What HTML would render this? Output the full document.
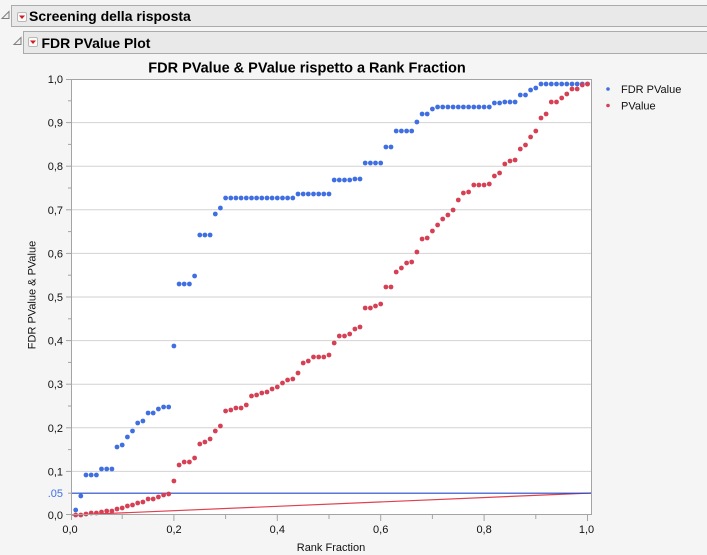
<!DOCTYPE html>
<html><head><meta charset="utf-8"><style>
html,body{margin:0;padding:0;background:#f5f5f5;}
svg{display:block;font-family:"Liberation Sans",sans-serif;}
</style></head><body>
<svg width="707" height="555" viewBox="0 0 707 555" xmlns="http://www.w3.org/2000/svg">
<rect x="0" y="0" width="707" height="555" fill="#f5f5f5"/>
<!-- header 1 -->
<rect x="11.5" y="5.5" width="700" height="21" fill="#e9e9e9" stroke="#ababab"/>
<polygon points="2,18.5 9,11.5 9,18.5" fill="#f0f0f0" stroke="#808080" stroke-width="1"/>
<rect x="17.5" y="12.5" width="9" height="9" rx="1.5" fill="#fafafa" stroke="#b8b8b8"/>
<polygon points="19,15.5 25,15.5 22,19" fill="#d41a1a"/>
<text x="29" y="21" font-size="14" font-weight="bold" fill="#000">Screening della risposta</text>
<!-- header 2 -->
<rect x="23.5" y="31.5" width="690" height="22" fill="#e9e9e9" stroke="#ababab"/>
<polygon points="14,44.5 21,37.5 21,44.5" fill="#f0f0f0" stroke="#808080" stroke-width="1"/>
<rect x="28.5" y="37.5" width="9" height="9" rx="1.5" fill="#fafafa" stroke="#b8b8b8"/>
<polygon points="30,40.5 36,40.5 33,44" fill="#d41a1a"/>
<text x="41.5" y="48" font-size="14" font-weight="bold" fill="#000">FDR PValue Plot</text>
<!-- title -->
<text x="307" y="72.5" font-size="14.5" font-weight="bold" text-anchor="middle" fill="#000">FDR PValue &amp; PValue rispetto a Rank Fraction</text>
<!-- plot area -->
<rect x="71.5" y="79.5" width="520" height="435" fill="#ffffff"/>
<g stroke="#d2d2d2" stroke-width="1">
<line x1="72" x2="591" y1="471.4" y2="471.4"/>
<line x1="72" x2="591" y1="427.8" y2="427.8"/>
<line x1="72" x2="591" y1="384.2" y2="384.2"/>
<line x1="72" x2="591" y1="340.6" y2="340.6"/>
<line x1="72" x2="591" y1="297" y2="297"/>
<line x1="72" x2="591" y1="253.4" y2="253.4"/>
<line x1="72" x2="591" y1="209.8" y2="209.8"/>
<line x1="72" x2="591" y1="166.2" y2="166.2"/>
<line x1="72" x2="591" y1="122.6" y2="122.6"/>
</g>
<!-- reference lines -->
<line x1="72" y1="515" x2="591.5" y2="493" stroke="#e0404f" stroke-width="1.2"/>
<line x1="72" y1="493.2" x2="591.5" y2="493.2" stroke="#2448c8" stroke-width="1.2"/>
<!-- blue series -->
<g fill="#3f6fe0">
<circle r="2.4" cx="75.7" cy="510"/><circle r="2.4" cx="80.8" cy="496"/><circle r="2.4" cx="86" cy="475"/><circle r="2.4" cx="91.2" cy="475"/><circle r="2.4" cx="96.4" cy="475"/>
<circle r="2.4" cx="101.5" cy="469"/><circle r="2.4" cx="106.7" cy="469"/><circle r="2.4" cx="111.9" cy="469"/><circle r="2.4" cx="117" cy="447"/><circle r="2.4" cx="122.2" cy="445"/>
<circle r="2.4" cx="127.4" cy="437"/><circle r="2.4" cx="132.5" cy="431"/><circle r="2.4" cx="137.7" cy="423"/><circle r="2.4" cx="142.9" cy="421"/><circle r="2.4" cx="148.1" cy="413"/>
<circle r="2.4" cx="153.2" cy="413"/><circle r="2.4" cx="158.4" cy="409"/><circle r="2.4" cx="163.6" cy="407"/><circle r="2.4" cx="168.7" cy="407"/><circle r="2.4" cx="173.9" cy="346"/>
<circle r="2.4" cx="179.1" cy="284"/><circle r="2.4" cx="184.2" cy="284"/><circle r="2.4" cx="189.4" cy="284"/><circle r="2.4" cx="194.6" cy="276"/><circle r="2.4" cx="199.8" cy="235"/>
<circle r="2.4" cx="204.9" cy="235"/><circle r="2.4" cx="210.1" cy="235"/><circle r="2.4" cx="215.3" cy="214"/><circle r="2.4" cx="220.4" cy="208"/><circle r="2.4" cx="225.6" cy="198"/>
<circle r="2.4" cx="230.8" cy="198"/><circle r="2.4" cx="235.9" cy="198"/><circle r="2.4" cx="241.1" cy="198"/><circle r="2.4" cx="246.3" cy="198"/><circle r="2.4" cx="251.5" cy="198"/>
<circle r="2.4" cx="256.6" cy="198"/><circle r="2.4" cx="261.8" cy="198"/><circle r="2.4" cx="267" cy="198"/><circle r="2.4" cx="272.1" cy="198"/><circle r="2.4" cx="277.3" cy="198"/>
<circle r="2.4" cx="282.5" cy="198"/><circle r="2.4" cx="287.6" cy="198"/><circle r="2.4" cx="292.8" cy="198"/><circle r="2.4" cx="298" cy="194"/><circle r="2.4" cx="303.2" cy="194"/>
<circle r="2.4" cx="308.3" cy="194"/><circle r="2.4" cx="313.5" cy="194"/><circle r="2.4" cx="318.7" cy="194"/><circle r="2.4" cx="323.8" cy="194"/><circle r="2.4" cx="329" cy="194"/>
<circle r="2.4" cx="334.2" cy="180"/><circle r="2.4" cx="339.3" cy="180"/><circle r="2.4" cx="344.5" cy="180"/><circle r="2.4" cx="349.7" cy="180"/><circle r="2.4" cx="354.9" cy="179"/>
<circle r="2.4" cx="360" cy="179"/><circle r="2.4" cx="365.2" cy="163"/><circle r="2.4" cx="370.4" cy="163"/><circle r="2.4" cx="375.5" cy="163"/><circle r="2.4" cx="380.7" cy="163"/>
<circle r="2.4" cx="385.9" cy="147"/><circle r="2.4" cx="391" cy="147"/><circle r="2.4" cx="396.2" cy="131"/><circle r="2.4" cx="401.4" cy="131"/><circle r="2.4" cx="406.6" cy="131"/>
<circle r="2.4" cx="411.7" cy="131"/><circle r="2.4" cx="416.9" cy="122"/><circle r="2.4" cx="422.1" cy="114"/><circle r="2.4" cx="427.2" cy="114"/><circle r="2.4" cx="432.4" cy="109"/>
<circle r="2.4" cx="437.6" cy="107"/><circle r="2.4" cx="442.7" cy="107"/><circle r="2.4" cx="447.9" cy="107"/><circle r="2.4" cx="453.1" cy="107"/><circle r="2.4" cx="458.3" cy="107"/>
<circle r="2.4" cx="463.4" cy="107"/><circle r="2.4" cx="468.6" cy="107"/><circle r="2.4" cx="473.8" cy="107"/><circle r="2.4" cx="478.9" cy="107"/><circle r="2.4" cx="484.1" cy="107"/>
<circle r="2.4" cx="489.3" cy="107"/><circle r="2.4" cx="494.4" cy="103"/><circle r="2.4" cx="499.6" cy="103"/><circle r="2.4" cx="504.8" cy="102"/><circle r="2.4" cx="510" cy="102"/>
<circle r="2.4" cx="515.1" cy="102"/><circle r="2.4" cx="520.3" cy="95"/><circle r="2.4" cx="525.5" cy="95"/><circle r="2.4" cx="530.6" cy="90"/><circle r="2.4" cx="535.8" cy="88"/>
<circle r="2.4" cx="541" cy="84"/><circle r="2.4" cx="546.1" cy="84"/><circle r="2.4" cx="551.3" cy="84"/><circle r="2.4" cx="556.5" cy="84"/><circle r="2.4" cx="561.7" cy="84"/>
<circle r="2.4" cx="566.8" cy="84"/><circle r="2.4" cx="572" cy="84"/><circle r="2.4" cx="577.2" cy="84"/><circle r="2.4" cx="582.3" cy="84"/><circle r="2.4" cx="587.5" cy="84"/>
</g>
<!-- red series -->
<g fill="#d64055">
<circle r="2.4" cx="75.7" cy="515"/><circle r="2.4" cx="80.8" cy="515"/><circle r="2.4" cx="86" cy="514"/><circle r="2.4" cx="91.2" cy="513"/><circle r="2.4" cx="96.4" cy="513"/>
<circle r="2.4" cx="101.5" cy="512"/><circle r="2.4" cx="106.7" cy="511"/><circle r="2.4" cx="111.9" cy="511"/><circle r="2.4" cx="117" cy="509"/><circle r="2.4" cx="122.2" cy="508"/>
<circle r="2.4" cx="127.4" cy="506"/><circle r="2.4" cx="132.5" cy="505"/><circle r="2.4" cx="137.7" cy="503"/><circle r="2.4" cx="142.9" cy="502"/><circle r="2.4" cx="148.1" cy="499"/>
<circle r="2.4" cx="153.2" cy="499"/><circle r="2.4" cx="158.4" cy="497"/><circle r="2.4" cx="163.6" cy="495"/><circle r="2.4" cx="168.7" cy="494"/><circle r="2.4" cx="173.9" cy="481"/>
<circle r="2.4" cx="179.1" cy="465"/><circle r="2.4" cx="184.2" cy="462"/><circle r="2.4" cx="189.4" cy="462"/><circle r="2.4" cx="194.6" cy="458"/><circle r="2.4" cx="199.8" cy="444"/>
<circle r="2.4" cx="204.9" cy="442"/><circle r="2.4" cx="210.1" cy="439"/><circle r="2.4" cx="215.3" cy="431"/><circle r="2.4" cx="220.4" cy="426"/><circle r="2.4" cx="225.6" cy="411"/>
<circle r="2.4" cx="230.8" cy="410"/><circle r="2.4" cx="235.9" cy="408"/><circle r="2.4" cx="241.1" cy="408"/><circle r="2.4" cx="246.3" cy="405"/><circle r="2.4" cx="251.5" cy="396"/>
<circle r="2.4" cx="256.6" cy="395"/><circle r="2.4" cx="261.8" cy="393"/><circle r="2.4" cx="267" cy="392"/><circle r="2.4" cx="272.1" cy="389"/><circle r="2.4" cx="277.3" cy="387"/>
<circle r="2.4" cx="282.5" cy="383"/><circle r="2.4" cx="287.6" cy="380"/><circle r="2.4" cx="292.8" cy="379"/><circle r="2.4" cx="298" cy="373"/><circle r="2.4" cx="303.2" cy="363"/>
<circle r="2.4" cx="308.3" cy="361"/><circle r="2.4" cx="313.5" cy="357"/><circle r="2.4" cx="318.7" cy="357"/><circle r="2.4" cx="323.8" cy="357"/><circle r="2.4" cx="329" cy="355"/>
<circle r="2.4" cx="334.2" cy="343"/><circle r="2.4" cx="339.3" cy="336"/><circle r="2.4" cx="344.5" cy="336"/><circle r="2.4" cx="349.7" cy="334"/><circle r="2.4" cx="354.9" cy="329"/>
<circle r="2.4" cx="360" cy="327"/><circle r="2.4" cx="365.2" cy="308"/><circle r="2.4" cx="370.4" cy="308"/><circle r="2.4" cx="375.5" cy="306"/><circle r="2.4" cx="380.7" cy="304"/>
<circle r="2.4" cx="385.9" cy="287"/><circle r="2.4" cx="391" cy="287"/><circle r="2.4" cx="396.2" cy="272"/><circle r="2.4" cx="401.4" cy="268"/><circle r="2.4" cx="406.6" cy="263"/>
<circle r="2.4" cx="411.7" cy="262"/><circle r="2.4" cx="416.9" cy="252"/><circle r="2.4" cx="422.1" cy="239"/><circle r="2.4" cx="427.2" cy="238"/><circle r="2.4" cx="432.4" cy="231"/>
<circle r="2.4" cx="437.6" cy="225"/><circle r="2.4" cx="442.7" cy="219"/><circle r="2.4" cx="447.9" cy="215"/><circle r="2.4" cx="453.1" cy="210"/><circle r="2.4" cx="458.3" cy="200"/>
<circle r="2.4" cx="463.4" cy="193"/><circle r="2.4" cx="468.6" cy="192"/><circle r="2.4" cx="473.8" cy="185"/><circle r="2.4" cx="478.9" cy="185"/><circle r="2.4" cx="484.1" cy="185"/>
<circle r="2.4" cx="489.3" cy="184"/><circle r="2.4" cx="494.4" cy="176"/><circle r="2.4" cx="499.6" cy="173"/><circle r="2.4" cx="504.8" cy="164"/><circle r="2.4" cx="510" cy="161"/>
<circle r="2.4" cx="515.1" cy="160"/><circle r="2.4" cx="520.3" cy="149"/><circle r="2.4" cx="525.5" cy="145"/><circle r="2.4" cx="530.6" cy="137"/><circle r="2.4" cx="535.8" cy="131"/>
<circle r="2.4" cx="541" cy="118"/><circle r="2.4" cx="546.1" cy="114"/><circle r="2.4" cx="551.3" cy="102"/><circle r="2.4" cx="556.5" cy="102"/><circle r="2.4" cx="561.7" cy="98"/>
<circle r="2.4" cx="566.8" cy="94"/><circle r="2.4" cx="572" cy="89"/><circle r="2.4" cx="577.2" cy="89"/><circle r="2.4" cx="582.3" cy="85"/><circle r="2.4" cx="587.5" cy="84"/>
</g>
<!-- frame -->
<rect x="71.5" y="79.5" width="520" height="435" fill="none" stroke="#a4a4a4" stroke-width="1"/>
<!-- y ticks -->
<g stroke="#a4a4a4" stroke-width="1">
<line x1="66" x2="71" y1="514.5" y2="514.5"/><line x1="66" x2="71" y1="471.4" y2="471.4"/><line x1="66" x2="71" y1="427.8" y2="427.8"/>
<line x1="66" x2="71" y1="384.2" y2="384.2"/><line x1="66" x2="71" y1="340.6" y2="340.6"/><line x1="66" x2="71" y1="297" y2="297"/>
<line x1="66" x2="71" y1="253.4" y2="253.4"/><line x1="66" x2="71" y1="209.8" y2="209.8"/><line x1="66" x2="71" y1="166.2" y2="166.2"/>
<line x1="66" x2="71" y1="122.6" y2="122.6"/><line x1="66" x2="71" y1="79.5" y2="79.5"/>
<line x1="68" x2="71" y1="493.2" y2="493.2"/><line x1="68" x2="71" y1="449.6" y2="449.6"/><line x1="68" x2="71" y1="406" y2="406"/>
<line x1="68" x2="71" y1="362.4" y2="362.4"/><line x1="68" x2="71" y1="318.8" y2="318.8"/><line x1="68" x2="71" y1="275.2" y2="275.2"/>
<line x1="68" x2="71" y1="231.6" y2="231.6"/><line x1="68" x2="71" y1="188" y2="188"/><line x1="68" x2="71" y1="144.4" y2="144.4"/>
<line x1="68" x2="71" y1="100.8" y2="100.8"/>
<!-- x ticks -->
<line x1="71.5" x2="71.5" y1="515" y2="520"/><line x1="173.9" x2="173.9" y1="515" y2="521"/><line x1="277.3" x2="277.3" y1="515" y2="521"/>
<line x1="380.7" x2="380.7" y1="515" y2="521"/><line x1="484.1" x2="484.1" y1="515" y2="521"/><line x1="587.5" x2="587.5" y1="515" y2="521"/>
<line x1="122.2" x2="122.2" y1="515" y2="519"/><line x1="225.6" x2="225.6" y1="515" y2="519"/><line x1="329" x2="329" y1="515" y2="519"/>
<line x1="432.4" x2="432.4" y1="515" y2="519"/><line x1="535.8" x2="535.8" y1="515" y2="519"/>
</g>
<!-- y labels -->
<g font-size="11" fill="#111" text-anchor="end">
<text x="63" y="519">0,0</text><text x="63" y="475.4">0,1</text><text x="63" y="431.8">0,2</text>
<text x="63" y="388.2">0,3</text><text x="63" y="344.6">0,4</text><text x="63" y="301">0,5</text>
<text x="63" y="257.4">0,6</text><text x="63" y="213.8">0,7</text><text x="63" y="170.2">0,8</text>
<text x="63" y="126.6">0,9</text><text x="63" y="83">1,0</text>
</g>
<text x="63" y="497" font-size="11" fill="#3f72e6" text-anchor="end">.05</text>
<!-- x labels -->
<g font-size="11" fill="#111" text-anchor="middle">
<text x="70" y="533">0,0</text><text x="174" y="533">0,2</text><text x="277.3" y="533">0,4</text>
<text x="380.7" y="533">0,6</text><text x="484.1" y="533">0,8</text><text x="586.5" y="533">1,0</text>
</g>
<text x="331" y="551" font-size="11" fill="#111" text-anchor="middle">Rank Fraction</text>
<text transform="translate(35.5,295) rotate(-90)" font-size="11" fill="#111" text-anchor="middle">FDR PValue &amp; PValue</text>
<!-- legend -->
<circle cx="608" cy="89" r="1.8" fill="#3f6fe0"/>
<text x="621" y="93" font-size="11" fill="#111">FDR PValue</text>
<circle cx="608" cy="105.5" r="1.8" fill="#d64055"/>
<text x="621" y="109.5" font-size="11" fill="#111">PValue</text>
</svg>
</body></html>
